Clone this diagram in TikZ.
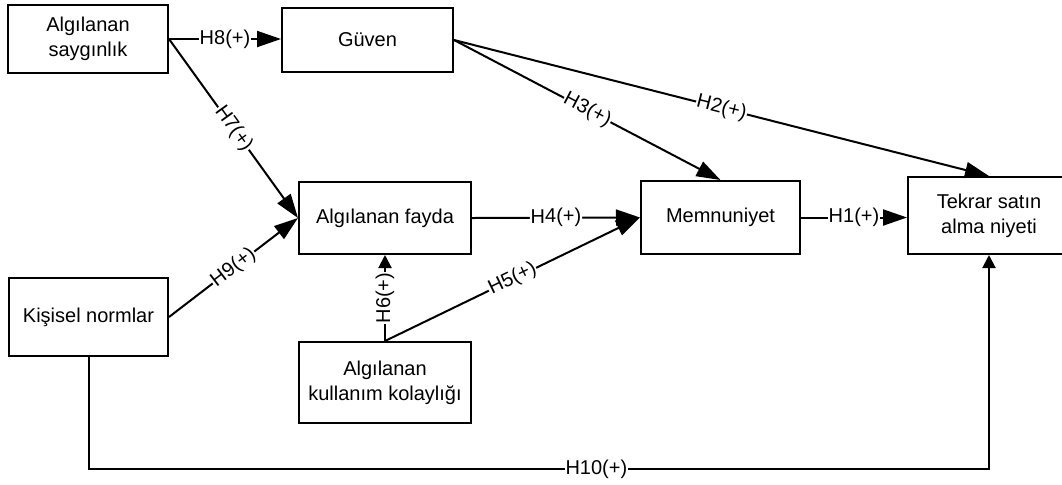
\documentclass[tikz,border=0pt]{standalone}
\usepackage{fontspec}
\setmainfont{Liberation Sans}
\usetikzlibrary{arrows.meta}
\begin{document}
\begin{tikzpicture}[x=0.5pt,y=-0.5pt,
  box/.style={draw=black, line width=1pt, fill=white, align=center, inner sep=1pt,
    font=\fontsize{10}{12.5}\selectfont},
  conn/.style={line width=1pt, -{Triangle[length=12pt,width=8pt]}},
  smallconn/.style={line width=1pt, -{Triangle[length=6.5pt,width=6.5pt]}},
  lbl/.style={fill=white, inner sep=0.4pt, sloped, font=\fontsize{10}{12}\selectfont}]
\useasboundingbox[fill=white] (0,0) rectangle (1062,484);

\node[box, minimum width=80pt, minimum height=34pt] (say) at (88,39) {Algılanan\\saygınlık};
\node[box, minimum width=85.5pt, minimum height=32pt] (guven) at (367.5,40) {Güven};
\node[box, minimum width=86pt, minimum height=36pt] (fayda) at (385,218) {Algılanan fayda};
\node[box, minimum width=79.5pt, minimum height=36.5pt] (memn) at (720.5,217.5) {Memnuniyet};
\node[box, minimum width=81pt, minimum height=38.5pt] (tekrar) at (989,215.5) {Tekrar satın\\alma niyeti};
\node[box, minimum width=79.5pt, minimum height=39pt] (kisisel) at (88.5,317) {Kişisel normlar};
\node[box, minimum width=86pt, minimum height=40.5pt] (kolay) at (385,382.5) {Algılanan\\kullanım kolaylığı};

\coordinate (h10) at (0,469);

\draw[conn] (say.east) -- node[lbl]{H8(+)} (say.east -| guven.west);
\draw[conn] (say.east) -- node[lbl]{H7(+)} (fayda.west);
\draw[conn] (kisisel.east) -- node[lbl]{H9(+)} (fayda.west);
\draw[conn] (fayda.east) -- node[lbl]{H4(+)} (memn.west);
\draw[conn] (kolay.north) -- node[lbl]{H5(+)} (memn.west);
\draw[smallconn] (kolay.north) -- node[lbl]{H6(+)} (fayda.south);
\draw[conn] (guven.east) -- node[lbl]{H3(+)} (memn.north);
\draw[conn] (guven.east) -- node[lbl]{H2(+)} (tekrar.north);
\draw[conn] (memn.east) -- node[lbl]{H1(+)} (memn.east -| tekrar.west);
\draw[smallconn] (kisisel.south) -- (kisisel.south |- h10)
  -- node[lbl, pos=0.564]{H10(+)} (tekrar.south |- h10) -- (tekrar.south);
\end{tikzpicture}
\end{document}
